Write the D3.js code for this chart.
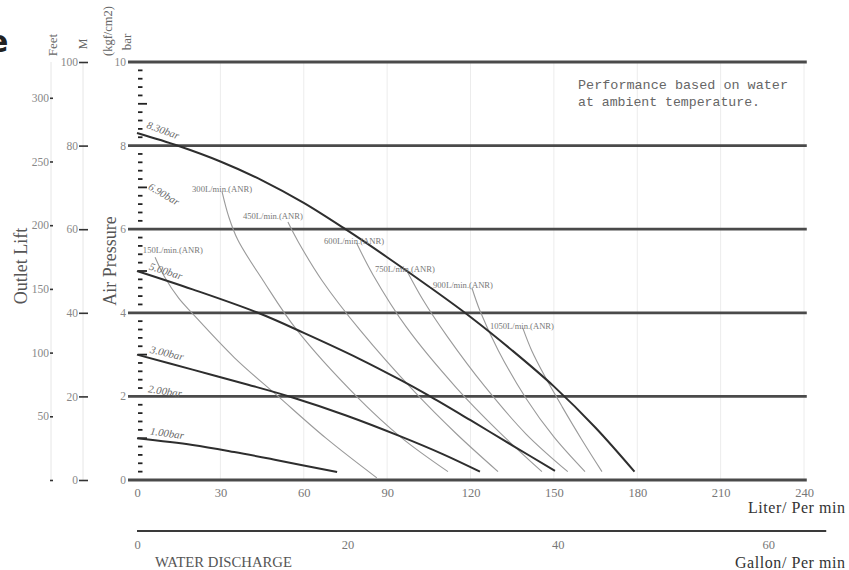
<!DOCTYPE html>
<html><head><meta charset="utf-8">
<script src="https://cdn.jsdelivr.net/npm/d3@7"></script>
<style>body{margin:0;background:#fff;} svg{display:block;}</style>
</head><body><svg id="chart" width="849" height="570"></svg>
<script>
// ---------- data ----------
const literTicks = [0,30,60,90,120,150,180,210,240];
const gallonTicks = [0,20,40,60];
const barTicks = [0,2,4,6,8,10];
const meterTicks = [0,20,40,60,80,100];
const feetTicks = [0,50,100,150,200,250,300];

// air pressure curves: [liter/min, bar]
const p830 = [[0,8.3],[15,7.99],[30,7.62],[45,7.17],[60,6.63],[75,6.0],[90,5.33],[105,4.63],[120,3.9],[135,3.1],[150,2.24],[165,1.25],[179,0.2]];
const p500 = [[0,5.0],[20,4.56],[43.5,4.0],[60,3.52],[80,2.9],[94.6,2.4],[104.7,2.03],[120,1.43],[135,0.83],[150.4,0.22]];
const p300 = [[0,3.0],[20,2.64],[40,2.28],[55.7,1.98],[75,1.55],[94.6,1.05],[110,0.62],[123.4,0.2]];
const p100 = [[0,1.0],[20,0.84],[35,0.67],[50,0.48],[72,0.19]];

// air consumption curves
const f150 = [[6.5,5.33],[10,4.85],[15,4.35],[20,3.98],[35,2.93],[50.8,2.0],[68,1.0],[86.3,0.05]];
const f300 = [[30.6,6.9],[33,6.3],[36.3,5.74],[45.3,4.78],[57.5,3.59],[79,2.0],[95,1.02],[111.9,0.2]];
const f450 = [[54.3,6.17],[58,5.7],[66.5,4.78],[80.2,3.59],[100,2.1],[115,1.1],[129.9,0.2]];
const f600 = [[79,5.67],[85,4.9],[97,3.65],[115,2.2],[130,1.17],[145.7,0.2]];
const f750 = [[97,5.02],[103,4.3],[112,3.4],[125,2.25],[140,1.1],[155,0.2]];
const f900 = [[120.5,4.6],[123.4,4.05],[130,3.1],[140,1.95],[150,1.03],[161.2,0.2]];
const f1050 = [[138.8,3.64],[142,3.1],[147,2.45],[153,1.75],[160,0.97],[167.3,0.2]];

const pressureCurves = [p830, p500, p300, p100];
const flowCurves = [f150, f300, f450, f600, f750, f900, f1050];

const pressureLabels = ["8.30bar","6.90bar","5.00bar","3.00bar","2.00bar","1.00bar"];
const pressureLabelAt = [[9.4,8.37],[9.7,6.84],[10.4,5.0],[10.8,3.04],[10.1,2.13],[10.8,1.12]];
const pressureLabelAngle = [20,30,18,13,8,8];

const flowLabels = ["150L/min.(ANR)","300L/min.(ANR)","450L/min.(ANR)","600L/min.(ANR)","750L/min.(ANR)","900L/min.(ANR)","1050L/min.(ANR)"];
const flowLabelAt = [[12.9,5.43],[30.6,6.89],[48.9,6.24],[78.1,5.65],[96.4,4.98],[117.3,4.59],[138.5,3.61]];

// ---------- drawing ----------
const svg = d3.select("#chart");
const serif = "'Liberation Serif','DejaVu Serif',serif";

const x = d3.scaleLinear().domain([0,240]).range([137,804]);
const y = d3.scaleLinear().domain([0,10]).range([480,62]);
const yM = d3.scaleLinear().domain([0,100]).range([480,62]);
const yFt = d3.scaleLinear().domain([0,100/0.3048]).range([480,62]);
const xGal = d3.scaleLinear().domain([0,240/3.785411784]).range([137,804]);

svg.append("rect").attr("width",849).attr("height",570).attr("fill","#fff");

// cut-off letter at top-left (the reference shows only its right half)
svg.append("text").attr("x",-12).attr("y",52).attr("font-family","'DejaVu Sans',sans-serif")
  .attr("font-weight","bold").attr("font-size",30).attr("fill","#222").text("e");

// faint axis spines on the left
[51,83].forEach(px => svg.append("line").attr("x1",px).attr("x2",px).attr("y1",y(10)).attr("y2",y(0))
  .attr("stroke","#e6e6e6").attr("stroke-width",1));

// faint vertical grid
svg.append("g").selectAll("line").data(literTicks.slice(1)).join("line")
  .attr("x1",d=>x(d)).attr("x2",d=>x(d)).attr("y1",y(10)).attr("y2",y(0))
  .attr("stroke","#ececec").attr("stroke-width",1);

// horizontal heavy grid lines
svg.append("g").selectAll("line").data(barTicks).join("line")
  .attr("x1",128).attr("x2",x(241)).attr("y1",d=>y(d)).attr("y2",d=>y(d))
  .attr("stroke","#4a4a4a").attr("stroke-width",2.8);

// bar tick labels
svg.append("g").selectAll("text").data(barTicks).join("text")
  .attr("x",126).attr("y",d=>y(d)).attr("dy","0.35em").attr("text-anchor","end")
  .attr("font-family",serif).attr("font-size",11.5).attr("fill","#888").text(d=>d);

// minor ticks on bar axis
const minor = d3.range(1,50).filter(i => i % 10 !== 0);
svg.append("g").selectAll("line").data(minor).join("line")
  .attr("x1",138).attr("x2",i => i % 5 === 0 ? 147 : 142.5)
  .attr("y1",i=>y(i*0.2)).attr("y2",i=>y(i*0.2))
  .attr("stroke","#222").attr("stroke-width",1.8);

// meter axis
const gM = svg.append("g").attr("transform","translate(88,0)")
  .call(d3.axisLeft(yM).tickValues(meterTicks).tickSize(9).tickPadding(1));
// feet axis
const gF = svg.append("g").attr("transform","translate(53,0)")
  .call(d3.axisLeft(yFt).tickValues(feetTicks).tickSize(3).tickPadding(1).tickFormat(d=>d?d:""));
[gM,gF].forEach(g => {
  g.select(".domain").remove();
  g.selectAll(".tick line").attr("stroke","#333").attr("stroke-width",1.6);
  g.selectAll(".tick text").attr("font-family",serif).attr("font-size",11.5).attr("fill","#888");
});

// bottom liter axis labels
const gX = svg.append("g").attr("transform",`translate(0,${y(0)})`)
  .call(d3.axisBottom(x).tickValues(literTicks).tickSize(0).tickPadding(8));
gX.select(".domain").remove();
gX.selectAll(".tick text").attr("font-family",serif).attr("font-size",12.5).attr("fill","#777");

// gallon axis
svg.append("line").attr("x1",xGal(0)).attr("x2",x(248)).attr("y1",531).attr("y2",531)
  .attr("stroke","#3a3a3a").attr("stroke-width",2);
const gG = svg.append("g").attr("transform","translate(0,531)")
  .call(d3.axisBottom(xGal).tickValues(gallonTicks).tickSize(0).tickPadding(9));
gG.select(".domain").remove();
gG.selectAll(".tick text").attr("font-family",serif).attr("font-size",12.5).attr("fill","#777");

// curves
const line = d3.line().x(d=>x(d[0])).y(d=>y(d[1])).curve(d3.curveCatmullRom.alpha(0.5));
svg.append("g").selectAll("path").data(flowCurves).join("path")
  .attr("d",line).attr("fill","none").attr("stroke","#9a9a9a").attr("stroke-width",1.1);
svg.append("g").selectAll("path").data(pressureCurves).join("path")
  .attr("d",line).attr("fill","none").attr("stroke","#2e2e2e").attr("stroke-width",2);

// curve labels
svg.append("g").selectAll("text").data(flowLabels).join("text")
  .attr("x",(d,i)=>x(flowLabelAt[i][0])).attr("y",(d,i)=>y(flowLabelAt[i][1]))
  .attr("text-anchor","middle").attr("font-family",serif).attr("font-size",7.5)
  .attr("fill","#777").attr("textLength",(d,i)=> i===6 ? 64 : 60).attr("lengthAdjust","spacingAndGlyphs")
  .text(d=>d);

svg.append("g").selectAll("text").data(pressureLabels).join("text")
  .attr("transform",(d,i)=>`translate(${x(pressureLabelAt[i][0])},${y(pressureLabelAt[i][1])}) rotate(${pressureLabelAngle[i]})`)
  .attr("text-anchor","middle").attr("dy","0.35em").attr("font-family",serif).attr("font-style","italic")
  .attr("font-size",10.5).attr("fill","#6a6a6a").attr("textLength",34).attr("lengthAdjust","spacingAndGlyphs")
  .text(d=>d);

// titles
function vtext(px,py,txt,size,fill){
  svg.append("text").attr("transform",`translate(${px},${py}) rotate(-90)`).attr("text-anchor","middle")
    .attr("font-family",serif).attr("font-size",size).attr("fill",fill).text(txt);
}
vtext(27,266,"Outlet Lift",18,"#555");
vtext(116,261,"Air Pressure",18,"#555");
vtext(57,45,"Feet",13,"#666");
vtext(87,44,"M",12,"#666");
vtext(112,31,"(kgf/cm2)",12.5,"#666");
vtext(131,42,"bar",13,"#666");

svg.append("text").attr("x",845).attr("y",513).attr("text-anchor","end").attr("font-family",serif)
  .attr("font-size",16).attr("fill","#333").attr("textLength",97).text("Liter/ Per min");
svg.append("text").attr("x",845).attr("y",568).attr("text-anchor","end").attr("font-family",serif)
  .attr("font-size",16).attr("fill","#333").attr("textLength",110).text("Gallon/ Per min");
svg.append("text").attr("x",155).attr("y",567).attr("font-family",serif)
  .attr("font-size",14).attr("fill","#555").attr("textLength",137).attr("lengthAdjust","spacingAndGlyphs").text("WATER DISCHARGE");

const note = ["Performance based on water","at ambient temperature."];
svg.append("g").selectAll("text").data(note).join("text")
  .attr("x",578).attr("y",(d,i)=>89+i*17).attr("font-family","'Liberation Mono','DejaVu Sans Mono',monospace")
  .attr("font-size",13).attr("fill","#666").attr("textLength",(d,i)=> i===0 ? 210 : 182)
  .attr("lengthAdjust","spacingAndGlyphs").text(d=>d);
</script></body></html>
